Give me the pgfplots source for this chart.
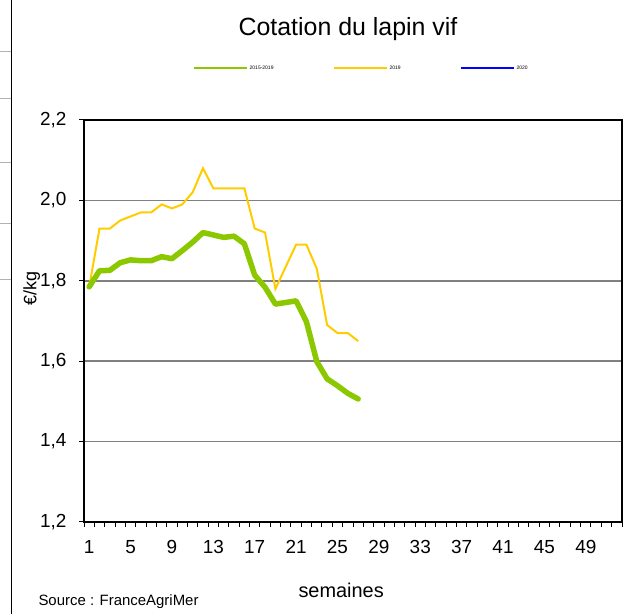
\documentclass[border=0pt]{standalone}
\usepackage{fontspec}
\setmainfont{Liberation Sans}
\usepackage{pgfplots}
\pgfplotsset{compat=1.18}
\definecolor{cgreen}{RGB}{140,200,0}
\definecolor{cyellow}{RGB}{255,204,0}
\definecolor{cgrid}{RGB}{128,128,128}
\begin{document}
\begin{tikzpicture}[x=1bp,y=1bp]
\path[use as bounding box] (0,0) rectangle (631,614);
\draw[line width=1bp] (11,0) -- (11,614);
\foreach \yy in {52,99,163,224,280} \draw[gray!60, line width=1bp] (0,614-\yy) -- (11,614-\yy);
\node[anchor=base, font=\fontsize{25}{30}\selectfont] at (348,578) {Cotation du lapin vif};
\node[anchor=base west, font=\fontsize{15}{18}\selectfont] at (35,8) {Source : FranceAgriMer};
\begin{axis}[
  at={(84bp,92bp)}, anchor=south west,
  scale only axis, width=538bp, height=402bp,
  xmin=0.5, xmax=52.5, ymin=1.2, ymax=2.2,
  xtick={0.5,1.5,...,52.5},
  xticklabels={},
  extra x ticks={1,5,9,13,17,21,25,29,33,37,41,45,49},
  extra x tick labels={1,5,9,13,17,21,25,29,33,37,41,45,49},
  extra x tick style={major tick length=0pt, xticklabel style={yshift=-15bp}},
  ytick={1.2,1.4,1.6,1.8,2.0,2.2},
  tick pos=left, tick align=outside,
  major tick length=5bp,
  tick style={line width=1bp, black},
  axis line style={line width=2bp},
  ymajorgrids, grid style={cgrid, line width=1.5bp},
  tick label style={font=\fontsize{19}{22}\selectfont},
  yticklabel style={xshift=-9bp, /pgf/number format/.cd, assume math mode=true, use comma, fixed, fixed zerofill, precision=1},
  xlabel={semaines},
  xlabel style={font=\fontsize{20}{24}\selectfont, at={(axis description cs:0.478,-0.189)}, anchor=base},
  ylabel={€/kg},
  ylabel style={font=\fontsize{18}{22}\selectfont, at={(axis description cs:-0.097,0.58)}, anchor=center},
  legend style={at={(axis description cs:0.2026,1.129)}, anchor=west, draw=none, fill=none, inner sep=0pt,
    font=\fontsize{5}{6}\selectfont, nodes={inner sep=1.5bp}},
  legend columns=3,
  legend cell align=left,
  legend image code/.code={\draw[#1, line width=2bp] (0bp,0bp) -- (53bp,0bp);},
  every axis legend/.append style={/tikz/every even column/.append style={column sep=58bp}},
]
\addlegendimage{cgreen}\addlegendentry{2015-2019}
\addlegendimage{cyellow}\addlegendentry{2019}
\addlegendimage{blue}\addlegendentry{2020}
\addplot[forget plot, cyellow, line width=2bp] coordinates {
(1,1.785) (2,1.93) (3,1.93) (4,1.95) (5,1.96) (6,1.97) (7,1.97) (8,1.99) (9,1.98) (10,1.99)
(11,2.02) (12,2.08) (13,2.03) (14,2.03) (15,2.03) (16,2.03) (17,1.93) (18,1.92) (19,1.78) (20,1.835)
(21,1.89) (22,1.89) (23,1.83) (24,1.69) (25,1.67) (26,1.67) (27,1.65)};
\addplot[forget plot, cgreen, line width=5.5bp, line join=round, line cap=round] coordinates {
(1,1.785) (2,1.825) (3,1.826) (4,1.845) (5,1.852) (6,1.850) (7,1.850) (8,1.860) (9,1.855) (10,1.875)
(11,1.896) (12,1.920) (13,1.914) (14,1.908) (15,1.911) (16,1.892) (17,1.814) (18,1.784) (19,1.742) (20,1.746)
(21,1.750) (22,1.698) (23,1.599) (24,1.556) (25,1.539) (26,1.520) (27,1.506)};
\end{axis}
\end{tikzpicture}
\end{document}
